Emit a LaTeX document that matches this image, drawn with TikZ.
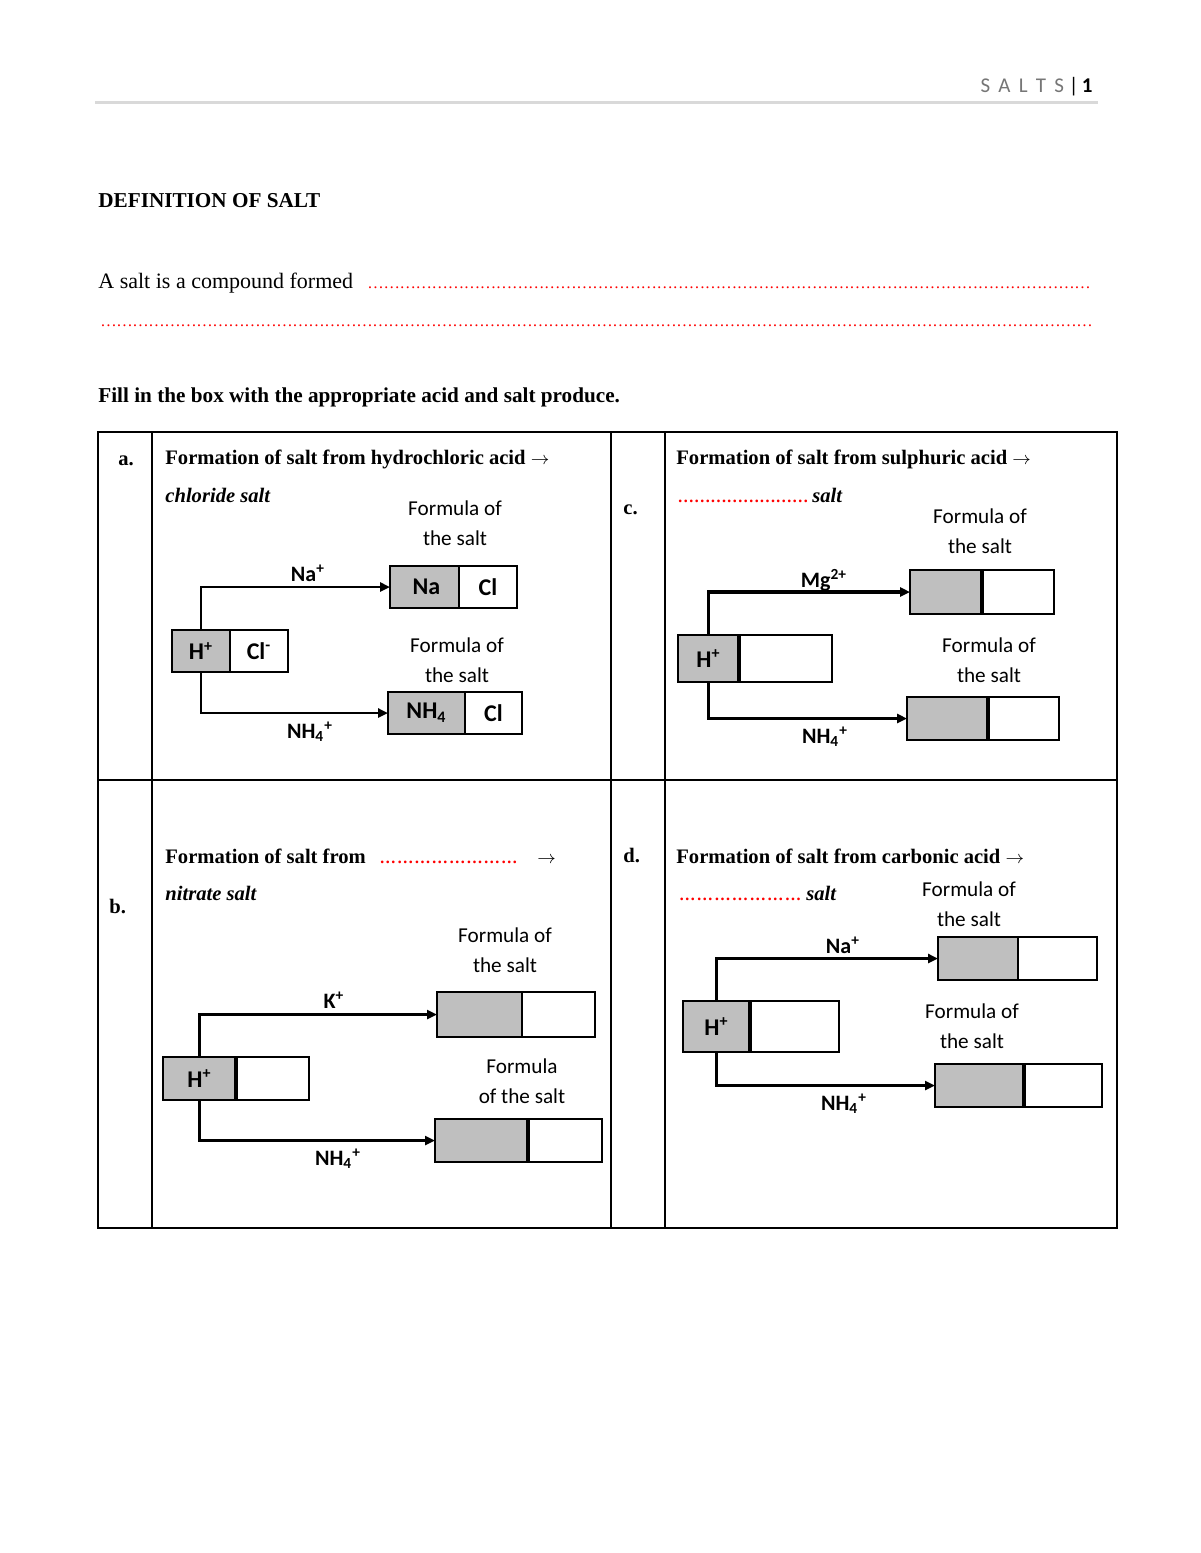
\documentclass[tikz,border=0pt]{standalone}
\usepackage{fontspec}
\setmainfont{Liberation Serif}
\newfontfamily\calibri{Carlito}
\usetikzlibrary{arrows.meta,positioning}
\definecolor{boxgrey}{RGB}{191,191,191}
\definecolor{rulegrey}{RGB}{217,217,217}
\definecolor{headgrey}{RGB}{118,118,118}
\definecolor{dotred}{RGB}{255,0,0}
% red dotted blank of a given width
\newcommand{\redblank}[1]{\textcolor{dotred}{\hbox to #1{\xleaders\hbox{\fontsize{8.2}{9}\selectfont …\kern-0.2pt}\hfill}}}
\newcommand{\toarrow}{{\fontsize{9}{10}\selectfont$\rightarrow$}}
\tikzset{
  ionbox/.style={draw,line width=1.2pt,fill=boxgrey,inner sep=0pt,outer sep=0pt,
    anchor=north west,font=\calibri\bfseries\fontsize{12}{14}\selectfont},
  restbox/.style={draw,line width=1.2pt,fill=white,inner sep=0pt,outer sep=0pt,
    font=\calibri\bfseries\fontsize{12}{14}\selectfont},
  link/.style={line width=1.2pt,-{Triangle[length=5pt,width=4.5pt]}},
  divider/.style={line width=2.2pt},
  ionlabel/.style={anchor=base,inner sep=0pt,font=\calibri\bfseries\fontsize{11}{13}\selectfont},
  formula/.style={anchor=base,inner sep=0pt,align=center,font=\calibri\fontsize{10.6}{15}\selectfont},
  title/.style={anchor=base west,inner sep=0pt,font=\bfseries\fontsize{10.3}{12}\selectfont},
  bodytext/.style={anchor=base west,inner sep=0pt,font=\fontsize{10.6}{12}\selectfont},
  grid/.style={line width=1pt}
}
\begin{document}
\begin{tikzpicture}[x=0.5pt,y=-0.5pt]
\fill[white] (0,0) rectangle (1200,1553);
\useasboundingbox (0,0) rectangle (1200,1553);

% page header
\node[anchor=base east,inner sep=0pt,font=\calibri\fontsize{10.5}{12}\selectfont] (head) at (1093,92)
  {\textcolor{headgrey}{S\, A\, L\, T\, S} \textbar\,\textbf{1}};
\draw[rulegrey,line width=1.5pt] (95,102.5) -- (1098,102.5);

% definition
\node[bodytext,font=\bfseries\fontsize{10.6}{12}\selectfont] (defhead) at (98,207) {DEFINITION OF SALT};
\node[bodytext,font=\fontsize{11}{12}\selectfont] (deftext) at (98,288) {A salt is a compound formed};
\node[bodytext] (defdots1) at (367,288) {\redblank{361.5pt}};
\node[bodytext] (defdots2) at (100,326) {\redblank{496pt}};
\node[bodytext,font=\bfseries\fontsize{10.6}{12}\selectfont] (fillin) at (98,402)
  {Fill in the box with the appropriate acid and salt produce.};

% table
\draw[grid] (98,432) rectangle (1117,1228);
\draw[grid] (98,780) -- (1117,780);
\foreach \xc in {152,611,665}
  \draw[grid] (\xc,432) -- (\xc,1228);

% cell a
\node[title] (aLetter) at (118,465) {a.};
\node[title] (aTitle) at (165,464) {Formation of salt from hydrochloric acid \toarrow};
\node[title] (aSub) at (165,502) {\textit{chloride salt}};
\node[ionbox,minimum width=29pt,minimum height=21pt] (aH) at (172,630) {H\textsuperscript{+}};
\node[restbox,minimum width=29pt,minimum height=21pt,right=0pt of aH] (aX) {Cl\textsuperscript{-}};
\node[ionbox,minimum width=34.5pt,minimum height=21pt] (aTop) at (390,566) {\,Na};
\node[restbox,minimum width=29pt,minimum height=21pt,right=0pt of aTop] (aTopR) {Cl};
\node[ionbox,minimum width=38.5pt,minimum height=21pt] (aBot) at (388,692) {NH\textsubscript{4}};
\node[restbox,minimum width=28.5pt,minimum height=21pt,right=0pt of aBot] (aBotR) {Cl};
\draw[link] (aH.north) |- (aTop.west);
\draw[link] (aH.south) |- (aBot.west);
\node[ionlabel] (aTopLab) at (308,581) {Na\textsuperscript{+}};
\node[ionlabel] (aBotLab) at (310,738) {NH\textsubscript{4}\textsuperscript{+}};
\node[formula] (aForm1) at (455,545) {Formula of\\the salt};
\node[formula] (aForm2) at (457,682) {Formula of\\the salt};

% cell c
\node[title] (cLetter) at (623,514) {c.};
\node[title] (cTitle) at (676,464) {Formation of salt from sulphuric acid \toarrow};
\node[title] (cSub) at (677,502) {\redblank{65.5pt}\kern2pt\textit{salt}};
\node[ionbox,minimum width=30.5pt,minimum height=23.5pt] (cH) at (678,635) {H\textsuperscript{+}};
\node[restbox,minimum width=46.5pt,minimum height=23.5pt,right=0pt of cH] (cX) {};
\node[ionbox,minimum width=36pt,minimum height=22pt] (cTop) at (910,570) {};
\node[restbox,minimum width=36pt,minimum height=22pt,right=0pt of cTop] (cTopR) {};
\node[ionbox,minimum width=40.5pt,minimum height=21.5pt] (cBot) at (907,697) {};
\node[restbox,minimum width=35.5pt,minimum height=21.5pt,right=0pt of cBot] (cBotR) {};
\draw[link,line width=1.6pt] (cH.north) |- (cTop.west);
\draw[link,line width=1.6pt] (cH.south) |- (cBot.west);
\draw[divider] (cH.north east) -- (cH.south east);
\draw[divider] (cTop.north east) -- (cTop.south east);
\draw[divider] (cBot.north east) -- (cBot.south east);
\node[ionlabel] (cTopLab) at (824,587) {Mg\textsuperscript{2+}};
\node[ionlabel] (cBotLab) at (825,743) {NH\textsubscript{4}\textsuperscript{+}};
\node[formula] (cForm1) at (980,553) {Formula of\\the salt};
\node[formula] (cForm2) at (989,682) {Formula of\\the salt};

% cell b
\node[title] (bLetter) at (109,913) {b.};
\node[title] (bTitle) at (165,863) {Formation of salt from};
\node[title] (bBlank) at (378,863) {\redblank{70pt}};
\node[title] (bArrow) at (537,863) {\toarrow};
\node[title] (bSub) at (165,900) {\textit{nitrate salt}};
\node[ionbox,minimum width=36.5pt,minimum height=21.5pt] (bH) at (163,1057) {H\textsuperscript{+}};
\node[restbox,minimum width=36.5pt,minimum height=21.5pt,right=0pt of bH] (bX) {};
\node[ionbox,minimum width=42.5pt,minimum height=22.5pt] (bTop) at (437,992) {};
\node[restbox,minimum width=36.5pt,minimum height=22.5pt,right=0pt of bTop] (bTopR) {};
\node[ionbox,minimum width=46.5pt,minimum height=21.5pt] (bBot) at (435,1119) {};
\node[restbox,minimum width=37pt,minimum height=21.5pt,right=0pt of bBot] (bBotR) {};
\draw[link] (bH.north) |- (bTop.west);
\draw[link] (bH.south) |- (bBot.west);
\draw[divider] (bH.north east) -- (bH.south east);
\draw[divider] (bBot.north east) -- (bBot.south east);
\node[ionlabel] (bTopLab) at (334,1008) {K\textsuperscript{+}};
\node[ionlabel] (bBotLab) at (338,1165) {NH\textsubscript{4}\textsuperscript{+}};
\node[formula] (bForm1) at (505,972) {Formula of\\the salt};
\node[formula] (bForm2) at (522,1103) {Formula\\of the salt};

% cell d
\node[title] (dLetter) at (623,862) {d.};
\node[title] (dTitle) at (676,863) {Formation of salt from carbonic acid \toarrow};
\node[title] (dSub) at (677,900) {\redblank{62.5pt}\kern2pt\textit{salt}};
\node[ionbox,minimum width=33.5pt,minimum height=25.5pt] (dH) at (683,1001) {H\textsuperscript{+}};
\node[restbox,minimum width=44.5pt,minimum height=25.5pt,right=0pt of dH] (dX) {};
\node[ionbox,minimum width=40pt,minimum height=21.5pt] (dTop) at (938,937) {};
\node[restbox,minimum width=39.5pt,minimum height=21.5pt,right=0pt of dTop] (dTopR) {};
\node[ionbox,minimum width=44.5pt,minimum height=21.5pt] (dBot) at (935,1064) {};
\node[restbox,minimum width=39pt,minimum height=21.5pt,right=0pt of dBot] (dBotR) {};
\draw[link] (dH.north) |- (dTop.west);
\draw[link] (dH.south) |- (dBot.west);
\draw[divider] (dH.north east) -- (dH.south east);
\draw[divider] (dBot.north east) -- (dBot.south east);
\node[ionlabel] (dTopLab) at (843,953) {Na\textsuperscript{+}};
\node[ionlabel] (dBotLab) at (844,1110) {NH\textsubscript{4}\textsuperscript{+}};
\node[formula] (dForm1) at (969,926) {Formula of\\the salt};
\node[formula] (dForm2) at (972,1048) {Formula of\\the salt};
\end{tikzpicture}
\end{document}
